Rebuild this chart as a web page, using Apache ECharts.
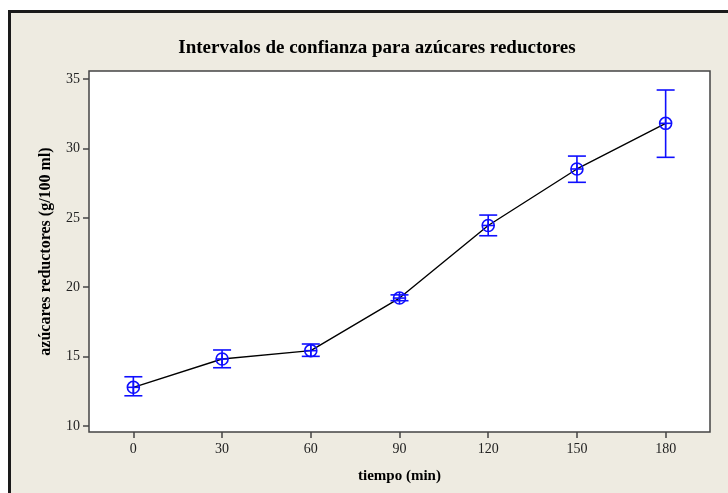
<!DOCTYPE html>
<html>
<head>
<meta charset="utf-8">
<script src="https://cdn.jsdelivr.net/npm/echarts@6/dist/echarts.min.js"></script>
<style>
html,body{margin:0;padding:0;background:#ffffff;}
#chart{width:728px;height:493px;}
</style>
</head>
<body>
<div id="chart"></div>
<script>
const tiempo = [0, 30, 60, 90, 120, 150, 180];
const medias = [12.79, 14.83, 15.43, 19.22, 24.45, 28.52, 31.81];
const inferior = [12.18, 14.20, 15.02, 19.03, 23.71, 27.56, 29.36];
const superior = [13.55, 15.48, 15.91, 19.45, 25.20, 29.45, 34.21];
const xTicks = [0, 30, 60, 90, 120, 150, 180];
const yTicks = [10, 15, 20, 25, 30, 35];

const BLUE = '#0f0fff';
const serif = 'Liberation Serif, "DejaVu Serif", serif';

const lineData = tiempo.map((t, i) => [t, medias[i]]);
const ciData = tiempo.map((t, i) => [t, inferior[i], superior[i], medias[i]]);

const chart = echarts.init(document.getElementById('chart'), null, {renderer: 'canvas'});
chart.setOption({
  animation: false,
  backgroundColor: 'transparent',
  graphic: [
    {
      type: 'rect', z: -10, silent: true,
      shape: {x: 9.5, y: 11.5, width: 740, height: 500},
      style: {fill: '#eeebe1', stroke: '#1a1a1a', lineWidth: 3}
    },
    {
      type: 'text', z: 10,
      x: 377, y: 48,
      style: {
        text: 'Intervalos de confianza para azúcares reductores',
        fill: '#000', font: 'bold 19px ' + serif,
        align: 'center', verticalAlign: 'middle'
      }
    }
  ],
  grid: {
    left: 89, top: 71, right: 18, bottom: 61,
    show: true, backgroundColor: '#ffffff',
    borderColor: '#444', borderWidth: 1.5
  },
  xAxis: {
    type: 'value', min: -15, max: 195,
    name: 'tiempo (min)', nameLocation: 'middle', nameGap: 37,
    nameTextStyle: {fontFamily: serif, fontWeight: 'bold', fontSize: 15, color: '#000'},
    axisLine: {show: false, onZero: false},
    axisTick: {show: true, customValues: xTicks, length: 6, lineStyle: {color: '#444', width: 1.5}},
    axisLabel: {customValues: xTicks, fontFamily: serif, fontSize: 14, color: '#222', margin: 10},
    splitLine: {show: false}
  },
  yAxis: {
    type: 'value', min: 9.57, max: 35.58,
    name: 'azúcares reductores (g/100 ml)', nameLocation: 'middle', nameGap: 35, nameRotate: 90,
    nameTextStyle: {fontFamily: serif, fontWeight: 'bold', fontSize: 16, color: '#000'},
    axisLine: {show: false, onZero: false},
    axisTick: {show: true, customValues: yTicks, length: 6, lineStyle: {color: '#444', width: 1.5}},
    axisLabel: {customValues: yTicks, fontFamily: serif, fontSize: 14, color: '#222', margin: 9},
    splitLine: {show: false}
  },
  series: [
    {
      type: 'line', data: lineData, symbol: 'none',
      lineStyle: {color: '#000', width: 1.4}, z: 2
    },
    {
      type: 'custom', data: ciData, z: 3,
      encode: {x: 0, y: [1, 2, 3]},
      renderItem: function (params, api) {
        const x = api.value(0);
        const lo = api.coord([x, api.value(1)]);
        const hi = api.coord([x, api.value(2)]);
        const c = api.coord([x, api.value(3)]);
        const cap = 9, r = 6;
        const st = {stroke: BLUE, lineWidth: 1.6, fill: null};
        return {
          type: 'group',
          children: [
            {type: 'line', shape: {x1: lo[0], y1: lo[1], x2: hi[0], y2: hi[1]}, style: st},
            {type: 'line', shape: {x1: lo[0] - cap, y1: lo[1], x2: lo[0] + cap, y2: lo[1]}, style: st},
            {type: 'line', shape: {x1: hi[0] - cap, y1: hi[1], x2: hi[0] + cap, y2: hi[1]}, style: st},
            {type: 'circle', shape: {cx: c[0], cy: c[1], r: r}, style: {stroke: BLUE, lineWidth: 1.6, fill: 'transparent'}},
            {type: 'line', shape: {x1: c[0] - r, y1: c[1], x2: c[0] + r, y2: c[1]}, style: st},
            {type: 'line', shape: {x1: c[0], y1: c[1] - r, x2: c[0], y2: c[1] + r}, style: st}
          ]
        };
      }
    }
  ]
});
</script>
</body>
</html>
